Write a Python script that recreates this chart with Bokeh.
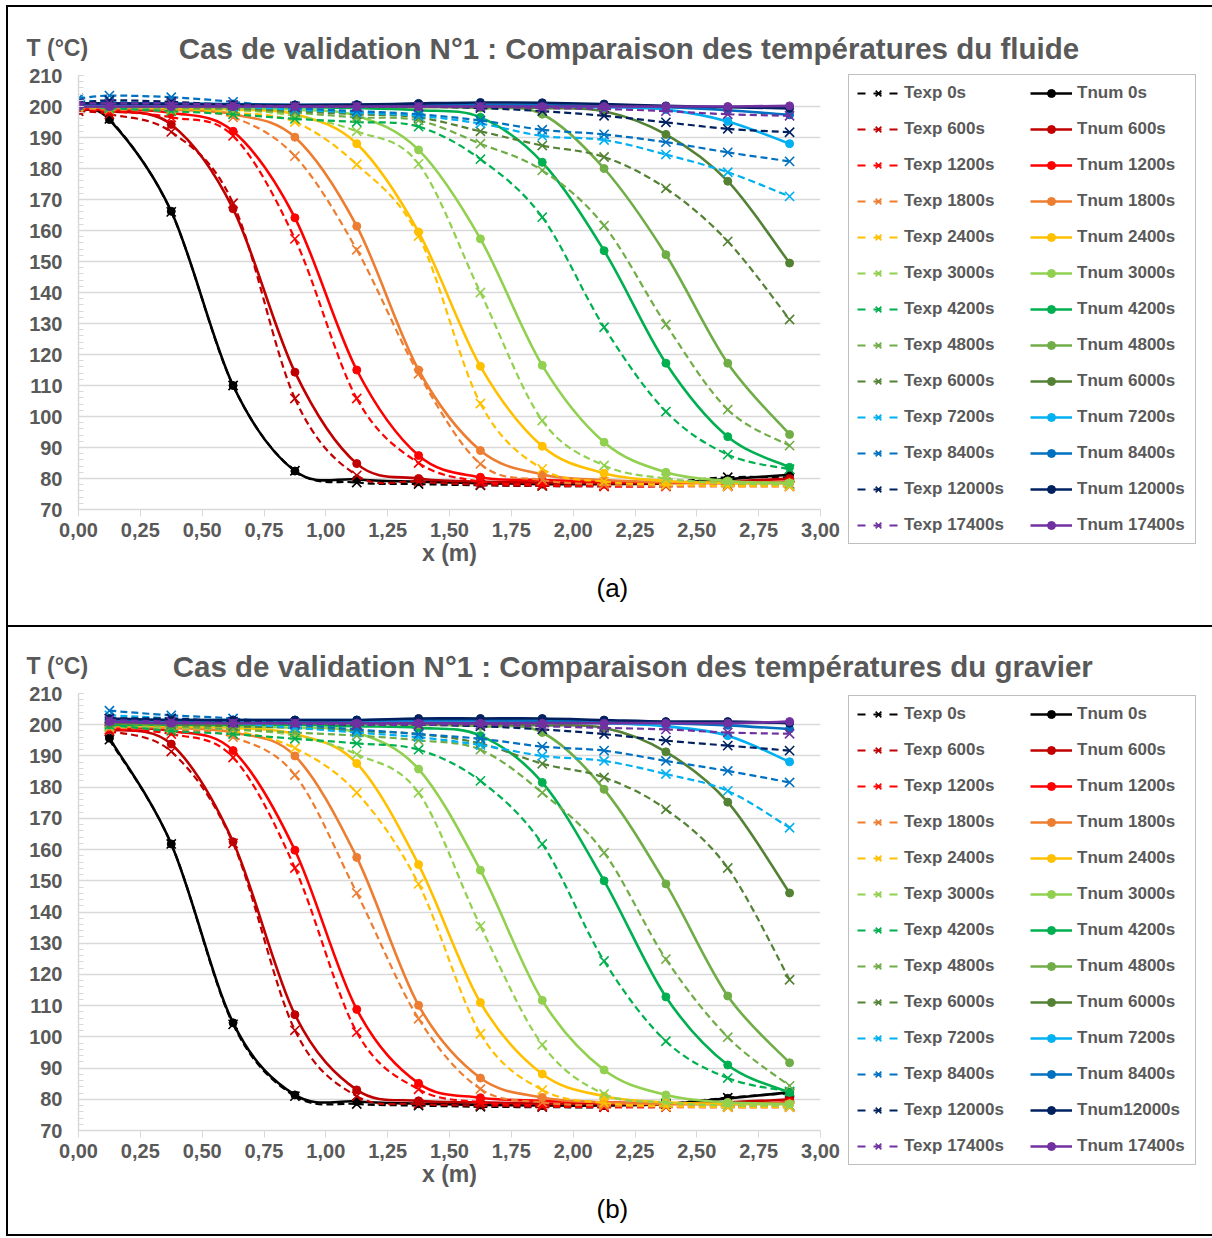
from bokeh.plotting import figure
from bokeh.models import Range1d, FixedTicker, Legend, LegendItem, Label, Title
from bokeh.layouts import column, row
from bokeh.embed import file_html
from bokeh.resources import INLINE

FONT = "Liberation Sans"
GRAY_TXT = "#595959"
NAN = float("nan")

times = ["0s", "600s", "1200s", "1800s", "2400s", "3000s", "4200s", "4800s",
         "6000s", "7200s", "8400s", "12000s", "17400s"]
colors = ["#000000", "#C00000", "#FF0000", "#ED7D31", "#FFC000", "#92D050", "#00B050",
          "#70AD47", "#548235", "#00B0F0", "#0070C0", "#002060", "#7030A0"]

x_tick_values = [0.0, 0.25, 0.5, 0.75, 1.0, 1.25, 1.5, 1.75, 2.0, 2.25, 2.5, 2.75, 3.0]
x_tick_labels = ["0,00", "0,25", "0,50", "0,75", "1,00", "1,25", "1,50", "1,75",
                 "2,00", "2,25", "2,50", "2,75", "3,00"]
y_tick_values = [70, 80, 90, 100, 110, 120, 130, 140, 150, 160, 170, 180, 190, 200, 210]

# ---------------- panel (a) : fluide ----------------
x_a = [0.0, 0.125, 0.375, 0.625, 0.875, 1.125, 1.375, 1.625, 1.875, 2.125, 2.375, 2.625, 2.875]

texp_a_0 = [198.5, 196, 166, 110, 82.5, 78.7, 78.2, 77.8, 77.6, 77.6, 78.7, 80.4, 80.3]
texp_a_600 = [198.5, 197.5, 191.8, 168.8, 105.8, 81, 79, 78, 77.6, 77.5, 77.5, 77.8, 78.2]
texp_a_1200 = [199, 198.5, 196.5, 190.5, 157.3, 105.8, 85, 79, 78, 77.5, 77.5, 77.5, 77.5]
texp_a_1800 = [199.5, 199, 198.5, 196.5, 184, 153.8, 113.8, 84.7, 79.5, 78, 77.6, 77.5, 77.5]
texp_a_2400 = [200, 199.5, 199, 198, 195, 181.3, 158.2, 104.2, 83.1, 79, 78, 77.6, 77.5]
texp_a_3000 = [200, 199.5, 199.5, 199, 197, 192, 181.5, 140, 98.7, 84.2, 80, 78.5, 78]
texp_a_4200 = [200.5, 199.5, 198.5, 197.5, 196, 195, 193.5, 183, 164.3, 128.8, 101.6, 87.7, 83]
texp_a_4800 = [200.5, 200, 199.5, 199, 198, 196.5, 195.5, 188, 179.4, 161.6, 129.7, 102.2, 90.6]
texp_a_6000 = [201, 200.5, 200, 199.5, 198.5, 197.5, 196.5, 192, 187.4, 183.7, 173.6, 156.5, 131.3]
texp_a_7200 = [202, 201.5, 201, 200, 199, 198, 197, 194.5, 190.5, 189.2, 184.5, 178.8, 171]
texp_a_8400 = [202.6, 203.5, 203, 201.5, 199.5, 198.5, 197.5, 195.5, 192.5, 191, 188.5, 185.2, 182.3]
texp_a_12000 = [201, 202, 201.5, 200.5, 200, 200, 200, 199.5, 198.5, 197, 194.9, 192.8, 191.7]
texp_a_17400 = [201, 201, 201, 200.5, 200, 200, 200, 200, 199.5, 199.2, 198.5, 197.5, 197]

tnum_a_0 = [198.7, 195.8, 166.2, 110, 82.4, 79.7, 79, 78.5, 78.2, 78.2, 78.5, 79.8, 81.2]
tnum_a_600 = [199, 198.5, 194.2, 167, 114.3, 84.8, 80, 79, 78.7, 78.5, 78.5, 79, 80]
tnum_a_1200 = [199.5, 199, 198, 192, 164.1, 115, 87.4, 80.4, 79.5, 79, 78.7, 78.6, 79]
tnum_a_1800 = [200, 199.5, 199, 197.5, 190.1, 161.4, 115, 89, 81.3, 79.5, 78.8, 78.5, 78.5]
tnum_a_2400 = [200, 200, 199.5, 199, 197.5, 188, 159.5, 116.2, 90.4, 81.7, 79.2, 78.6, 78.5]
tnum_a_3000 = [200, 200, 200, 199.5, 199, 197, 186, 157.3, 116.5, 91.7, 82, 79.2, 78.6]
tnum_a_4200 = [200, 200, 200, 200, 199.8, 199.5, 198.8, 196.5, 182, 153.5, 117.2, 93.5, 83.6]
tnum_a_4800 = [200, 200, 200, 200, 200, 200, 199.8, 199.5, 197.5, 180, 152.2, 117.2, 94.2]
tnum_a_6000 = [200, 200, 200, 200, 200, 200, 200, 200, 199.5, 198.5, 191, 175.9, 149.5]
tnum_a_7200 = [200.5, 200.5, 200.5, 200.5, 200.5, 200.5, 200.5, 200.5, 200.2, 199.8, 199, 195.2, 188]
tnum_a_8400 = [201, 201, 201, 200.8, 200.5, 200.5, 200.5, 200.5, 200.5, 200.2, 199.8, 198.8, 197.3]
tnum_a_12000 = [201, 201, 200.8, 200.6, 200.5, 200.6, 201, 201.3, 201.2, 200.8, 200.2, 199.8, 199.4]
tnum_a_17400 = [200, 200, 200, 200, 200, 200, 200, 200, 200, 200, 200, 200, 200.2]

# ---------------- panel (b) : gravier ----------------
x_b = [0.125, 0.375, 0.625, 0.875, 1.125, 1.375, 1.625, 1.875, 2.125, 2.375, 2.625, 2.875]

texp_b_0 = [195.2, 161.8, 104, 81, 78.5, 78, 77.6, 77.5, 77.5, 78.5, 80.5, 82]
texp_b_600 = [198, 191.4, 162, 102.1, 81, 78.5, 78, 77.6, 77.5, 77.5, 77.8, 78]
texp_b_1200 = [198.5, 197, 189.5, 154.1, 101.5, 83.2, 79, 78, 77.5, 77.5, 77.5, 77.5]
texp_b_1800 = [199, 198.5, 196, 183.9, 146.1, 105.8, 83.3, 79, 78, 77.6, 77.5, 77.5]
texp_b_2400 = [199.5, 199, 198, 192.5, 178.2, 149, 101, 83, 78.8, 77.8, 77.5, 77.5]
texp_b_3000 = [199.5, 199, 198.5, 196.5, 190.5, 178.2, 135.5, 97.5, 81.7, 79, 78, 78]
texp_b_4200 = [200, 198, 197, 195.5, 194, 192, 182, 161.8, 124.3, 98.6, 86.8, 82.5]
texp_b_4800 = [200.5, 199.5, 198.5, 197.5, 196.5, 195, 192, 178.2, 159, 124.9, 99.9, 84.3]
texp_b_6000 = [201, 200, 199.5, 199, 198, 197, 194, 187.5, 183.1, 172.9, 154.1, 118.3]
texp_b_7200 = [203, 202, 200.5, 199, 197.5, 196, 193.5, 190, 188.4, 184.2, 178.8, 167]
texp_b_8400 = [204.5, 203, 202, 200, 198.5, 197, 195.5, 193, 191.7, 188.4, 185.2, 181.5]
texp_b_12000 = [202, 202, 201, 200.5, 200, 200, 199.5, 198.5, 197, 194.9, 193.3, 191.7]
texp_b_17400 = [201.5, 201, 200.5, 200.5, 200, 200, 200, 199.5, 199, 198.5, 197.5, 197.1]

tnum_b_0 = [195.7, 161.8, 104.5, 81.4, 79.3, 78.6, 78.2, 78, 78, 78.5, 80.3, 82.2]
tnum_b_600 = [198.5, 193.8, 162.5, 107.1, 83, 79.5, 79, 78.6, 78.5, 78.5, 79, 80]
tnum_b_1200 = [199, 198, 191.7, 159.8, 108.8, 85.1, 80.5, 79.5, 79, 78.6, 78.5, 79]
tnum_b_1800 = [199.5, 199, 197.5, 190, 157.5, 110.1, 86.8, 80.6, 79, 78.5, 78.5, 78.5]
tnum_b_2400 = [200, 199.5, 199, 197, 187.6, 155.2, 111, 88.1, 81, 79, 78.5, 78.5]
tnum_b_3000 = [200, 200, 199.5, 199, 197.5, 185.8, 153.4, 111.7, 89.4, 81.4, 79, 78.5]
tnum_b_4200 = [200, 200, 200, 200, 199.5, 199, 196.5, 181.5, 150, 112.8, 91, 82.2]
tnum_b_4800 = [200.5, 200.5, 200.5, 200.5, 200.5, 200, 199.5, 197.5, 179.3, 149, 113.1, 91.7]
tnum_b_6000 = [200.5, 200.5, 200.5, 200.5, 200.5, 200.5, 200.3, 199.8, 199, 191.3, 175.2, 146.1]
tnum_b_7200 = [201, 201, 201, 201, 201, 201, 201, 200.8, 200.5, 199.5, 196.5, 188.1]
tnum_b_8400 = [201.5, 201.5, 201.5, 201.5, 201.5, 201.5, 201.5, 201.3, 201, 200.5, 199.8, 198.6]
tnum_b_12000 = [202, 201.5, 201.5, 201.5, 201.5, 202, 202, 202, 201.5, 201, 201, 200.5]
tnum_b_17400 = [201, 200.5, 200.5, 200.5, 200.5, 200.5, 200.5, 200.5, 200.5, 200.5, 200.5, 201]

texp_a = [texp_a_0, texp_a_600, texp_a_1200, texp_a_1800, texp_a_2400, texp_a_3000, texp_a_4200,
          texp_a_4800, texp_a_6000, texp_a_7200, texp_a_8400, texp_a_12000, texp_a_17400]
tnum_a = [tnum_a_0, tnum_a_600, tnum_a_1200, tnum_a_1800, tnum_a_2400, tnum_a_3000, tnum_a_4200,
          tnum_a_4800, tnum_a_6000, tnum_a_7200, tnum_a_8400, tnum_a_12000, tnum_a_17400]
texp_b = [texp_b_0, texp_b_600, texp_b_1200, texp_b_1800, texp_b_2400, texp_b_3000, texp_b_4200,
          texp_b_4800, texp_b_6000, texp_b_7200, texp_b_8400, texp_b_12000, texp_b_17400]
tnum_b = [tnum_b_0, tnum_b_600, tnum_b_1200, tnum_b_1800, tnum_b_2400, tnum_b_3000, tnum_b_4200,
          tnum_b_4800, tnum_b_6000, tnum_b_7200, tnum_b_8400, tnum_b_12000, tnum_b_17400]

texp_labels_a = ["Texp " + t for t in times]
tnum_labels_a = ["Tnum " + t for t in times]
texp_labels_b = ["Texp " + t for t in times]
tnum_labels_b = ["Tnum " + t for t in times[:11]] + ["Tnum12000s", "Tnum 17400s"]

B = "2px solid black"


def no_frame_align(f):
    try:
        f.frame_align = False
    except Exception:
        pass


def smooth_segments(xs, ys):
    """Excel-like smoothed line: cubic Bezier segments between the data points."""
    n = len(xs)
    d = dict(x0=[], y0=[], x1=[], y1=[], cx0=[], cy0=[], cx1=[], cy1=[])
    for i in range(n - 1):
        im = max(i - 1, 0)
        ip = min(i + 2, n - 1)
        d["x0"].append(xs[i]); d["y0"].append(ys[i])
        d["x1"].append(xs[i + 1]); d["y1"].append(ys[i + 1])
        d["cx0"].append(xs[i] + (xs[i + 1] - xs[im]) / 6.0)
        d["cy0"].append(ys[i] + (ys[i + 1] - ys[im]) / 6.0)
        d["cx1"].append(xs[i + 1] - (xs[ip] - xs[i]) / 6.0)
        d["cy1"].append(ys[i + 1] - (ys[ip] - ys[i]) / 6.0)
    return d


def blank_figure(width, height, x_range, y_range, styles):
    f = figure(width=width, height=height, output_backend="svg", toolbar_location=None,
               title=None, x_range=x_range, y_range=y_range,
               x_axis_type=None, y_axis_type=None,
               min_border_left=0, min_border_right=0, min_border_top=0, min_border_bottom=0)
    f.outline_line_color = None
    f.background_fill_color = "white"
    f.border_fill_color = "white"
    f.styles = styles
    no_frame_align(f)
    return f


def title_strip(title, y_top, y_bot, title_x, title_y, ylab_y, styles, height):
    # canvas spans page x 8..1212 and page y y_top..y_bot: ranges are page pixels
    f = blank_figure(1206, height, Range1d(8, 1212), Range1d(y_bot, y_top), styles)
    f.add_layout(Label(x=title_x, y=title_y, text=title, text_align="left",
                       text_baseline="alphabetic", text_font=FONT, text_font_style="bold",
                       text_font_size="29.5px", text_color=GRAY_TXT))
    f.add_layout(Label(x=26, y=ylab_y, text="T (°C)", text_align="left",
                       text_baseline="alphabetic", text_font=FONT, text_font_style="bold",
                       text_font_size="23px", text_color=GRAY_TXT))
    return f


def plot_area(xs, texp, tnum, caption, height, top, bottom, styles, cap_standoff):
    p = figure(width=834, height=height, output_backend="svg", toolbar_location=None,
               title=None, x_range=Range1d(0, 3), y_range=Range1d(70, 210),
               min_border_left=70, min_border_right=22,
               min_border_top=top, min_border_bottom=bottom)
    p.outline_line_color = None
    p.background_fill_color = "white"
    p.border_fill_color = "white"
    p.styles = styles
    no_frame_align(p)

    p.xaxis.ticker = FixedTicker(ticks=x_tick_values)
    p.xaxis.major_label_overrides = {v: s for v, s in zip(x_tick_values, x_tick_labels)}
    p.yaxis.ticker = FixedTicker(ticks=y_tick_values, minor_ticks=list(range(70, 211, 2)))
    for ax in (p.xaxis[0], p.yaxis[0]):
        ax.axis_line_color = "#D9D9D9"
        ax.axis_line_width = 1.5
        ax.major_tick_line_color = "#D9D9D9"
        ax.minor_tick_line_color = "#D9D9D9"
        ax.major_label_text_font = FONT
        ax.major_label_text_font_style = "bold"
        ax.major_label_text_font_size = "20px"
        ax.major_label_text_color = GRAY_TXT
    p.xaxis.major_tick_out = 7
    p.xaxis.major_tick_in = 0
    p.xaxis.minor_tick_out = 0
    p.xaxis.minor_tick_in = 0
    p.xaxis.major_label_standoff = 6
    p.xaxis.axis_label = "x (m)"
    p.xaxis.axis_label_standoff = 0
    p.xaxis.axis_label_text_font = FONT
    p.xaxis.axis_label_text_font_style = "bold"
    p.xaxis.axis_label_text_font_size = "23px"
    p.xaxis.axis_label_text_color = GRAY_TXT
    p.yaxis.major_tick_out = 0
    p.yaxis.major_tick_in = 5
    p.yaxis.minor_tick_out = 0
    p.yaxis.minor_tick_in = 5
    p.yaxis.major_label_standoff = 16
    p.xgrid.grid_line_color = None
    p.ygrid.grid_line_color = "#D9D9D9"
    p.ygrid.grid_line_width = 1.5

    for i in range(len(times)):
        c = colors[i]
        p.bezier(line_color=c, line_width=2.2, line_dash="7 4", **smooth_segments(xs, texp[i]))
        p.scatter(xs, texp[i], marker="x", size=13, line_color=c, line_width=1.6)
        p.bezier(line_color=c, line_width=2.6, **smooth_segments(xs, tnum[i]))
        p.scatter(xs, tnum[i], marker="circle", size=8, fill_color=c, line_color=c)

    p.add_layout(Title(text=caption, align="left", offset=518, standoff=cap_standoff,
                       text_font=FONT, text_font_style="normal", text_font_size="26px",
                       text_color="black"), "below")
    return p


def legend_area(texp_labels, tnum_labels, height, loc, styles):
    f = blank_figure(372, height, Range1d(0, 1), Range1d(0, 1), styles)
    exp_items, num_items = [], []
    for i in range(len(times)):
        c = colors[i]
        lx = f.line(x=[NAN, NAN], y=[NAN, NAN], line_color=c, line_width=2.2, line_dash="8 8")
        sx = f.scatter(x=[NAN], y=[NAN], marker="x", size=13, line_color=c, line_width=1.6)
        exp_items.append(LegendItem(label=texp_labels[i], renderers=[lx, sx]))
        ln = f.line(x=[NAN, NAN], y=[NAN, NAN], line_color=c, line_width=2.6)
        sn = f.scatter(x=[NAN], y=[NAN], marker="circle", size=8, fill_color=c, line_color=c)
        num_items.append(LegendItem(label=tnum_labels[i], renderers=[ln, sn]))
    legend = Legend(items=exp_items + num_items, location=loc,
                    orientation="vertical", ncols=2,
                    label_text_font=FONT, label_text_font_style="bold",
                    label_text_font_size="17px", label_text_color=GRAY_TXT,
                    glyph_width=42, glyph_height=20, label_height=20, label_width=110,
                    label_standoff=5, spacing=16, padding=8, margin=0,
                    border_line_color="#7F7F7F", border_line_width=1.2,
                    background_fill_color="white", background_fill_alpha=1.0)
    f.add_layout(legend)
    return f


# ---- panel (a) ----
ta = title_strip("Cas de validation N°1 : Comparaison des températures du fluide",
                 7, 66, 178, 47, 46,
                 {"border-top": B, "border-left": B}, 61)
pa = plot_area(x_a, texp_a, tnum_a, "(a)", 559, 9, 116, {"border-left": B}, 5)
la = legend_area(texp_labels_a, tnum_labels_a, 559, (8, 81), {})

# ---- panel (b) ----
tb = title_strip("Cas de validation N°1 : Comparaison des températures du gravier",
                 627, 684, 172, 665, 664,
                 {"border-top": B, "border-left": B}, 59)
pb = plot_area(x_b, texp_b, tnum_b, "(b)", 552, 9, 106,
               {"border-left": B, "border-bottom": B}, 5)
lb = legend_area(texp_labels_b, tnum_labels_b, 552, (8, 71), {"border-bottom": B})

layout = column(ta, row(pa, la, spacing=0), tb, row(pb, lb, spacing=0), spacing=0,
                styles={"margin-left": "6px", "margin-top": "5px"})
open("out.html", "w").write(file_html(layout, INLINE))
